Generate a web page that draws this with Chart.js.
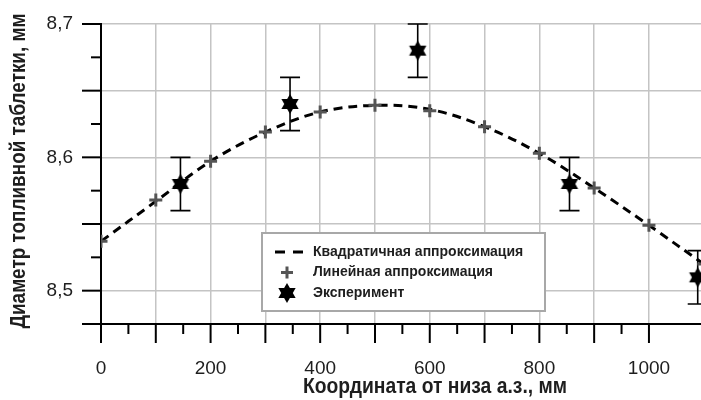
<!DOCTYPE html>
<html lang="ru">
<head>
<meta charset="UTF-8">
<title>Диаметр топливной таблетки</title>
<script src="https://cdn.jsdelivr.net/npm/chart.js"></script>
<style>
  html, body { margin: 0; padding: 0; background: #fff; overflow: hidden; }
</style>
</head>
<body>
<canvas id="myChart" width="701" height="400"></canvas>
<script>
// координата от низа а.з., мм
var fitX = [0, 100, 200, 300, 400, 500, 600, 700, 800, 900, 1000, 1100];
// квадратичная аппроксимация, мм
var quadY = [8.537, 8.567, 8.597, 8.619, 8.634, 8.639, 8.636, 8.623, 8.603, 8.577, 8.549, 8.520];
// линейная аппроксимация (кресты), мм
var linY = [8.537, 8.568, 8.597, 8.619, 8.634, 8.639, 8.635, 8.623, 8.603, 8.577, 8.549, 8.520];
// эксперимент
var expX = [145, 345, 578, 855, 1089];
var expY = [8.58, 8.64, 8.68, 8.58, 8.51];
var expErr = [0.02, 0.02, 0.02, 0.02, 0.02];

var xLabels = [0, 200, 400, 600, 800, 1000];
var yLabels = [8.5, 8.6, 8.7];
var legendLabels = ['Квадратичная аппроксимация', 'Линейная аппроксимация', 'Эксперимент'];
var xTitle = 'Координата от низа а.з., мм';
var yTitle = 'Диаметр топливной таблетки, мм';

var FONT = "'Liberation Sans', Arial, sans-serif";
var TITLE_FONT = "'Liberation Sans Narrow', 'Liberation Sans', Arial, sans-serif";
var GRID = '#c4c4c4';

function near(v, list) {
  for (var i = 0; i < list.length; i++) {
    if (Math.abs(v - list[i]) < 1e-6) return true;
  }
  return false;
}
function isStep(v, step) {
  var k = v / step;
  return Math.abs(k - Math.round(k)) < 1e-6;
}

// шестиконечная звезда для маркера эксперимента
function makeStar(r) {
  var c = document.createElement('canvas');
  var s = Math.ceil(r * 2) + 2;
  c.width = s; c.height = s;
  var g = c.getContext('2d');
  g.fillStyle = '#000';
  for (var k = 0; k < 2; k++) {
    g.beginPath();
    for (var i = 0; i < 3; i++) {
      var a = -Math.PI / 2 + k * Math.PI + i * 2 * Math.PI / 3;
      var px = s / 2 + r * Math.cos(a), py = s / 2 + r * Math.sin(a);
      if (i) g.lineTo(px, py); else g.moveTo(px, py);
    }
    g.closePath();
    g.fill();
  }
  return c;
}
var starImg = makeStar(10);

function drawFitText(ctx, text, cx, cy, w, rot) {
  ctx.save();
  ctx.translate(cx, cy);
  ctx.rotate(rot);
  var m = ctx.measureText(text).width;
  if (m > w) ctx.scale(w / m, 1);
  ctx.textAlign = 'center';
  ctx.textBaseline = 'middle';
  ctx.fillText(text, 0, 0);
  ctx.restore();
}

var decorPlugin = {
  id: 'decor',
  beforeDatasetsDraw: function (chart) {
    var ctx = chart.ctx, xs = chart.scales.x, ys = chart.scales.y;
    var area = chart.chartArea;
    ctx.save();
    ctx.strokeStyle = '#000';
    ctx.lineWidth = 2;
    // засечки оси Y
    ys.ticks.forEach(function (t) {
      var y = ys.getPixelForValue(t.value);
      var len = (isStep(t.value, 0.05) || t.value === ys.min) ? 19 : 10;
      ctx.beginPath();
      ctx.moveTo(area.left - len, y);
      ctx.lineTo(area.left, y);
      ctx.stroke();
    });
    // засечки оси X
    xs.ticks.forEach(function (t) {
      if (!isStep(t.value, 50)) return;
      var x = xs.getPixelForValue(t.value);
      var len = isStep(t.value, 100) ? 19 : 10;
      ctx.beginPath();
      ctx.moveTo(x, area.bottom);
      ctx.lineTo(x, area.bottom + len);
      ctx.stroke();
    });
    // погрешности эксперимента
    ctx.lineWidth = 1.6;
    for (var i = 0; i < expX.length; i++) {
      var x = xs.getPixelForValue(expX[i]);
      var y1 = ys.getPixelForValue(expY[i] + expErr[i]);
      var y2 = ys.getPixelForValue(expY[i] - expErr[i]);
      ctx.beginPath();
      ctx.moveTo(x, y1); ctx.lineTo(x, y2);
      ctx.moveTo(x - 10, y1); ctx.lineTo(x + 10, y1);
      ctx.moveTo(x - 10, y2); ctx.lineTo(x + 10, y2);
      ctx.stroke();
    }
    ctx.restore();
  },
  afterDraw: function (chart) {
    var ctx = chart.ctx, area = chart.chartArea;
    ctx.save();
    // подписи осей
    ctx.fillStyle = '#1e1e1e';
    ctx.font = 'bold 22px ' + TITLE_FONT;
    drawFitText(ctx, xTitle, area.left + 334, area.bottom + 63, 264, 0);
    drawFitText(ctx, yTitle, 19, area.top + 147, 315, -Math.PI / 2);

    // легенда
    var bx = area.left + 161, by = area.top + 209, bw = 283, bh = 78;
    ctx.fillStyle = '#fff';
    ctx.fillRect(bx, by, bw, bh);
    ctx.strokeStyle = '#a8a8a8';
    ctx.lineWidth = 2;
    ctx.strokeRect(bx, by, bw, bh);
    var ix = bx + 25, tx = bx + 51;
    var rows = [by + 19, by + 39.5, by + 60];
    ctx.strokeStyle = '#000';
    ctx.lineWidth = 3;
    ctx.setLineDash([10, 8]);
    ctx.beginPath();
    ctx.moveTo(ix - 12, rows[0]); ctx.lineTo(ix + 16, rows[0]);
    ctx.stroke();
    ctx.setLineDash([]);
    ctx.strokeStyle = '#555';
    ctx.beginPath();
    ctx.moveTo(ix - 6, rows[1]); ctx.lineTo(ix + 6, rows[1]);
    ctx.moveTo(ix, rows[1] - 6); ctx.lineTo(ix, rows[1] + 6);
    ctx.stroke();
    ctx.drawImage(starImg, ix - starImg.width / 2, rows[2] - starImg.height / 2);
    ctx.fillStyle = '#1e1e1e';
    ctx.font = 'bold 14px ' + FONT;
    ctx.textAlign = 'left';
    ctx.textBaseline = 'middle';
    for (var i = 0; i < legendLabels.length; i++) {
      ctx.fillText(legendLabels[i], tx, rows[i]);
    }
    ctx.restore();
  }
};

var ctx = document.querySelector('#myChart');
new Chart(ctx, {
  type: 'scatter',
  data: {
    datasets: [{
      label: legendLabels[2],
      data: expX.map(function (x, i) { return { x: x, y: expY[i] }; }),
      showLine: false,
      pointStyle: starImg,
      pointRadius: 10,
      order: 0
    }, {
      label: legendLabels[1],
      data: fitX.map(function (x, i) { return { x: x, y: linY[i] }; }),
      showLine: false,
      pointStyle: 'cross',
      pointRadius: 6.5,
      pointBorderWidth: 3,
      pointBorderColor: '#555',
      order: 1
    }, {
      label: legendLabels[0],
      data: fitX.map(function (x, i) { return { x: x, y: quadY[i] }; }),
      showLine: true,
      borderColor: '#000',
      borderWidth: 3,
      borderDash: [9, 6],
      pointRadius: 0,
      tension: 0.35,
      fill: false,
      order: 2
    }]
  },
  options: {
    responsive: false,
    animation: false,
    events: [],
    layout: { autoPadding: false, padding: { top: 24, right: 0, left: 0, bottom: 0 } },
    plugins: {
      legend: { display: false },
      tooltip: { enabled: false }
    },
    scales: {
      x: {
        type: 'linear',
        min: 0,
        max: 1095,
        afterFit: function (s) {
          s.height = 76;
          s.paddingLeft = 0;
          s.paddingRight = 0;
        },
        ticks: {
          stepSize: 50,
          autoSkip: false,
          maxRotation: 0,
          padding: 33,
          color: '#1e1e1e',
          font: { family: FONT, size: 19 },
          callback: function (v) { return near(v, xLabels) ? String(v) : ''; }
        },
        grid: {
          drawTicks: false,
          lineWidth: 1.5,
          color: function (c) {
            var v = c.tick ? c.tick.value : 0;
            return (v > 0 && isStep(v, 100)) ? GRID : 'rgba(0,0,0,0)';
          }
        },
        border: { color: '#000', width: 2 }
      },
      y: {
        min: 8.475,
        max: 8.7,
        afterFit: function (s) {
          s.width = 101;
          s.paddingTop = 0;
          s.paddingBottom = 0;
        },
        ticks: {
          stepSize: 0.025,
          autoSkip: false,
          padding: 28,
          color: '#1e1e1e',
          font: { family: FONT, size: 19 },
          callback: function (v) {
            return near(v, yLabels) ? v.toFixed(1).replace('.', ',') : '';
          }
        },
        grid: {
          drawTicks: false,
          lineWidth: 1.5,
          color: function (c) {
            var v = c.tick ? c.tick.value : 0;
            return (isStep(v, 0.05) && v > 8.48) ? GRID : 'rgba(0,0,0,0)';
          }
        },
        border: { color: '#000', width: 2 }
      }
    }
  },
  plugins: [decorPlugin]
});
</script>
</body>
</html>
